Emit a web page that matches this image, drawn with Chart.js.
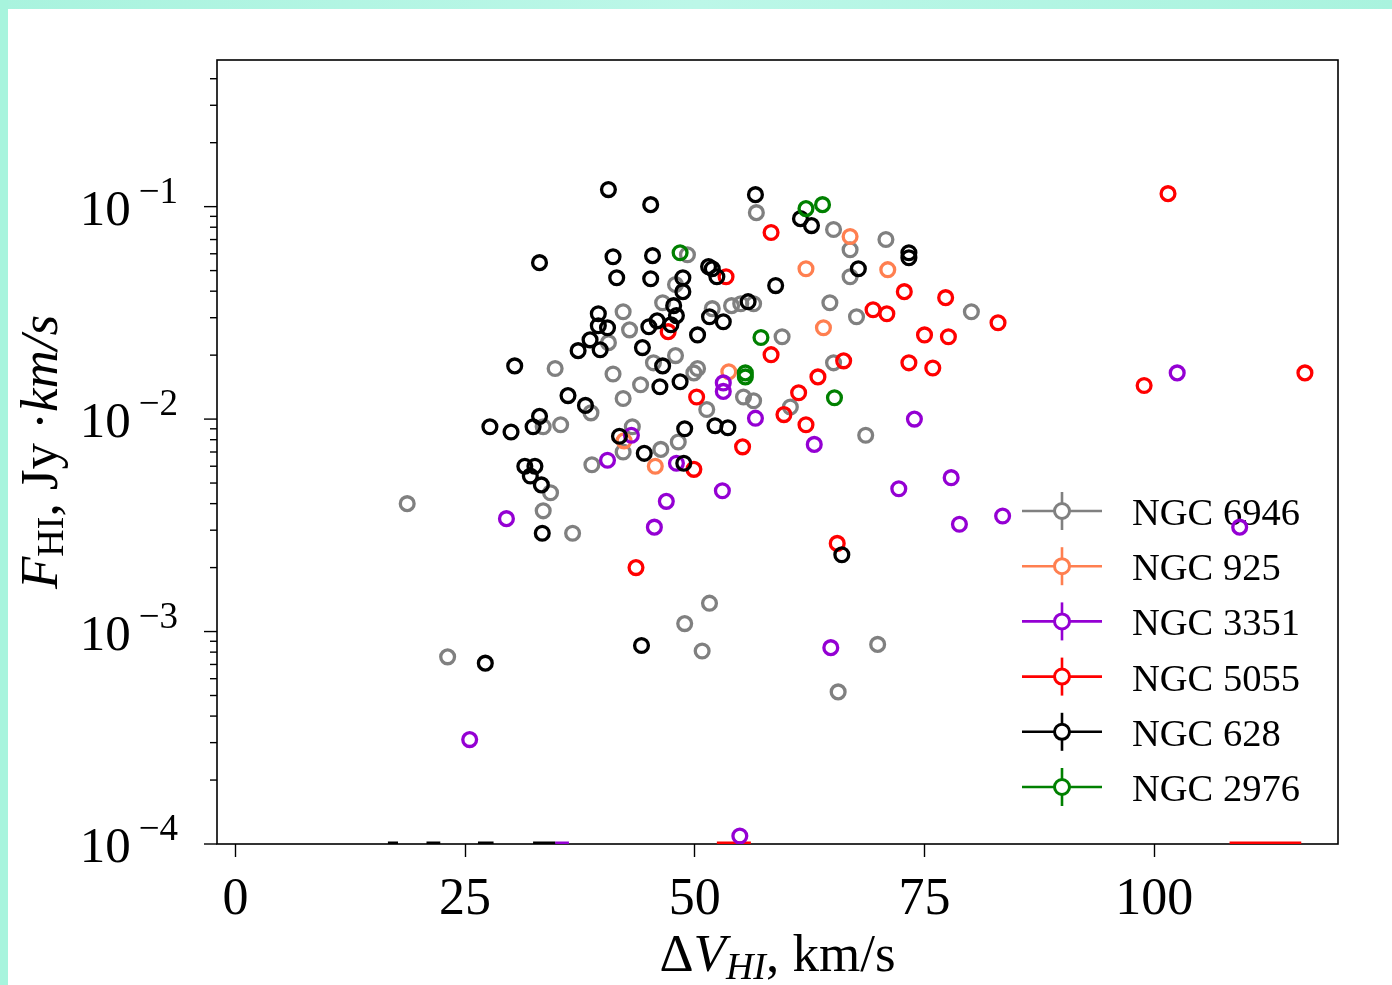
<!DOCTYPE html>
<html lang="en">

<head>
    <meta charset="UTF-8">
    <title>HI flux vs line width</title>
    <script src="https://cdn.jsdelivr.net/npm/chart.js@4.4.1/dist/chart.umd.min.js"></script>
    <style>
        body { margin: 0; background: #fff; overflow: hidden; }
        #topband { position: absolute; left: 0; top: 0; width: 1392px; height: 9px;
            background: linear-gradient(to right, #a9f3de, #bcf7e8 50%, #a9f3de); }
        #leftband { position: absolute; left: 0; top: 0; width: 8px; height: 985px; background: #a7f4dd; }
        #chart { position: absolute; left: 0; top: 0; }
    </style>
</head>

<body>
    <div id="topband"></div>
    <div id="leftband"></div>
    <canvas id="chart" width="1392" height="985"></canvas>

<script>
    // series: line width dV (km/s) and flux F (Jy km/s)
    const ngc6946_dv = [18.7, 23.1, 34.3, 33.5, 36.7, 34.8, 35.4, 33.5, 38.8, 38.7, 40.6, 41.1, 42.2, 42.9, 42.2, 44.1, 42.2, 43.2, 45.5, 46.3, 46.5, 47.9, 47.9, 48.2, 49.2, 49.9, 50.3, 51.3, 51.9, 54.0, 55.0, 56.4, 55.3, 56.4, 56.7, 59.5, 60.4, 64.7, 65.1, 65.1, 66.9, 66.9, 67.6, 68.6, 70.8, 80.1, 51.6, 48.9, 50.8, 69.9, 65.6];
    const ngc6946_f = [0.0040, 0.00076, 0.0045, 0.0037, 0.0029, 0.0173, 0.0094, 0.0092, 0.0061, 0.0107, 0.0229, 0.0163, 0.0320, 0.0263, 0.0125, 0.0145, 0.0070, 0.0092, 0.0184, 0.0072, 0.0353, 0.0430, 0.0199, 0.0078, 0.0594, 0.0165, 0.0173, 0.0111, 0.0331, 0.0342, 0.0349, 0.0349, 0.0127, 0.0122, 0.0937, 0.0244, 0.0114, 0.0353, 0.0780, 0.0184, 0.0627, 0.0468, 0.0303, 0.0084, 0.0700, 0.0320, 0.00136, 0.00109, 0.00081, 0.00087, 0.00052];

    const ngc925_dv = [66.9, 62.1, 71.0, 64.0, 53.7, 45.7, 42.3];
    const ngc925_f = [0.0723, 0.0510, 0.0505, 0.0269, 0.0167, 0.0060, 0.0079];

    const ngc3351_dv = [25.5, 29.5, 40.5, 43.1, 45.6, 46.9, 53.0, 53.1, 53.1, 56.6, 63.0, 48.0, 64.8, 54.9, 72.2, 73.9, 77.9, 78.8, 83.5, 102.5, 109.3];
    const ngc3351_f = [0.00031, 0.0034, 0.0064, 0.0084, 0.0031, 0.0041, 0.0046, 0.0148, 0.0135, 0.0101, 0.0076, 0.0062, 0.00084, 0.000109, 0.0047, 0.0100, 0.0053, 0.0032, 0.0035, 0.0165, 0.0031];

    const ngc5055_dv = [53.4, 58.3, 47.1, 50.2, 55.2, 49.9, 43.6, 58.3, 59.7, 62.1, 63.4, 61.3, 66.2, 65.5, 69.4, 70.9, 72.8, 77.3, 75.0, 77.6, 73.3, 75.9, 83.0, 98.9, 101.5, 116.4];
    const ngc5055_f = [0.0468, 0.0755, 0.0258, 0.0127, 0.0074, 0.0058, 0.0020, 0.0201, 0.0105, 0.0094, 0.0158, 0.0133, 0.0188, 0.0026, 0.0327, 0.0313, 0.0398, 0.0373, 0.0249, 0.0244, 0.0184, 0.0174, 0.0284, 0.0144, 0.1151, 0.0165];

    const ngc628_dv = [40.6, 45.2, 56.6, 33.1, 41.1, 41.5, 45.4, 45.2, 51.5, 51.9, 52.4, 48.7, 48.7, 47.7, 48.0, 47.4, 45.9, 45.0, 39.5, 39.5, 40.5, 38.6, 37.3, 39.7, 44.3, 50.3, 51.6, 53.1, 46.5, 46.2, 48.4, 36.2, 38.1, 30.4, 27.7, 30.0, 33.1, 32.4, 41.8, 48.9, 52.2, 53.6, 44.5, 48.8, 31.5, 32.6, 32.1, 33.3, 33.4, 61.5, 62.7, 73.3, 73.3, 67.8, 58.8, 55.8, 66.0, 44.2, 27.2];
    const ngc628_f = [0.1203, 0.1022, 0.1139, 0.0545, 0.0581, 0.0463, 0.0588, 0.0458, 0.0522, 0.0510, 0.0468, 0.0463, 0.0398, 0.0342, 0.0307, 0.0278, 0.0290, 0.0272, 0.0313, 0.0275, 0.0269, 0.0236, 0.0210, 0.0212, 0.0217, 0.0249, 0.0303, 0.0287, 0.0178, 0.0142, 0.0150, 0.0129, 0.0116, 0.0178, 0.0092, 0.0087, 0.0103, 0.0092, 0.0083, 0.0090, 0.0093, 0.0091, 0.0069, 0.0062, 0.0060, 0.0060, 0.0054, 0.0049, 0.0029, 0.0878, 0.0814, 0.0607, 0.0575, 0.0510, 0.0425, 0.0357, 0.0023, 0.00086, 0.00071];

    const ngc2976_dv = [62.1, 63.9, 48.4, 57.2, 55.5, 55.5, 65.2];
    const ngc2976_f = [0.0979, 0.1022, 0.0607, 0.0242, 0.0165, 0.0158, 0.0126];

    // dV error bars of sources sitting on the lower flux limit
    const fluxFloor = 1e-4;
    const floorBars628 = [[16.6, 17.7], [20.8, 22.3], [26.4, 28.1], [32.4, 34.8]];
    const floorBars3351 = [[34.8, 36.3]];
    const floorBars5055 = [[52.4, 56.1], [108.2, 116.0]];

    const seriesNames = ['NGC 6946', 'NGC 925', 'NGC 3351', 'NGC 5055', 'NGC 628', 'NGC 2976'];
    const seriesColors = ['#808080', '#ff7f50', '#9400d3', '#ff0000', '#000000', '#008000'];
    const xTicks = [0, 25, 50, 75, 100];
    const yDecades = [-4, -3, -2, -1];
    const xMin = -2, xMax = 120, yMin = 1e-4, yMax = 0.49;

    const serif = 'Liberation Serif';

    function pairs(xs, ys) {
        return xs.map((v, i) => ({ x: v, y: ys[i] }));
    }

    function barPoints(bars) {
        const pts = [];
        bars.forEach(b => {
            pts.push({ x: b[0], y: fluxFloor }, { x: b[1], y: fluxFloor }, { x: b[1], y: null });
        });
        return pts;
    }

    function pointSet(i, xs, ys) {
        return {
            label: seriesNames[i],
            data: pairs(xs, ys),
            borderColor: seriesColors[i],
            backgroundColor: 'rgba(0,0,0,0)',
            pointRadius: 6.9,
            pointBorderWidth: 3.3,
            pointHoverRadius: 6.9,
            showLine: false,
            order: 6 - i,
        };
    }

    function barSet(i, bars) {
        return {
            label: seriesNames[i] + ' floor',
            data: barPoints(bars),
            borderColor: seriesColors[i],
            borderWidth: 5,
            pointRadius: 0,
            showLine: true,
            spanGaps: false,
            clip: 0,
            order: 7,
        };
    }

    function drawPieces(ctx, pieces, x, y) {
        let cx = x;
        pieces.forEach(p => {
            ctx.font = p.font;
            ctx.fillText(p.t, cx, y + (p.dy || 0));
            cx += ctx.measureText(p.t).width;
        });
    }

    function piecesWidth(ctx, pieces) {
        let w = 0;
        pieces.forEach(p => {
            ctx.font = p.font;
            w += ctx.measureText(p.t).width;
        });
        return w;
    }

    function seg(ctx, x1, y1, x2, y2) {
        ctx.beginPath();
        ctx.moveTo(x1, y1);
        ctx.lineTo(x2, y2);
        ctx.stroke();
    }

    // frame, log ticks, labels, titles and legend drawn matplotlib-style
    const mplAxes = {
        id: 'mplAxes',
        beforeDatasetsDraw(chart) {
            const ctx = chart.ctx;
            const a = chart.chartArea;
            const ys = chart.scales.y;
            ctx.save();
            ctx.strokeStyle = '#000';
            ctx.fillStyle = '#000';
            ctx.lineWidth = 1.6;
            ctx.strokeRect(a.left, a.top, a.right - a.left, a.bottom - a.top);

            // y ticks, major and minor
            ctx.lineWidth = 1.4;
            yDecades.forEach(e => {
                for (let k = 1; k <= 9; k++) {
                    const v = k * Math.pow(10, e);
                    if (v > yMax) break;
                    const py = ys.getPixelForValue(v);
                    seg(ctx, a.left - (k === 1 ? 13 : 7), py, a.left, py);
                }
            });

            // y tick labels 10^n
            ctx.textBaseline = 'alphabetic';
            ctx.textAlign = 'left';
            yDecades.forEach(e => {
                const py = ys.getPixelForValue(Math.pow(10, e));
                const exp = '\u2212' + (-e);
                ctx.font = '37px "' + serif + '"';
                const ew = ctx.measureText(exp).width;
                ctx.fillText(exp, 178 - ew, py - 4);
                ctx.font = '51px "' + serif + '"';
                const bw = ctx.measureText('10').width;
                ctx.fillText('10', 178 - ew - 8 - bw, py + 18);
            });

            // x axis title
            const xt = [
                { t: '\u0394', font: '53px "' + serif + '"' },
                { t: 'V', font: 'italic 53px "' + serif + '"' },
                { t: 'HI', font: 'italic 38px "' + serif + '"', dy: 8 },
                { t: ', km/s', font: '53px "' + serif + '"' },
            ];
            const cx = (a.left + a.right) / 2;
            drawPieces(ctx, xt, cx - piecesWidth(ctx, xt) / 2, 971);

            // y axis title
            const yt = [
                { t: 'F', font: 'italic 53px "' + serif + '"' },
                { t: 'HI', font: '38px "' + serif + '"', dy: 6 },
                { t: ', Jy ', font: '53px "' + serif + '"' },
                { t: '\u00b7', font: '53px "' + serif + '"' },
                { t: 'km/s', font: 'italic 53px "' + serif + '"' },
            ];
            ctx.save();
            ctx.translate(57, (a.top + a.bottom) / 2);
            ctx.rotate(-Math.PI / 2);
            drawPieces(ctx, yt, -piecesWidth(ctx, yt) / 2, 0);
            ctx.restore();

            // legend with errorbar handles
            seriesNames.forEach((name, i) => {
                const ly = a.top + 451 + i * 55.2;
                const lx = a.right - 276;
                ctx.strokeStyle = seriesColors[i];
                ctx.lineWidth = 2.6;
                seg(ctx, lx - 40, ly, lx + 40, ly);
                seg(ctx, lx, ly - 19, lx, ly + 19);
                ctx.beginPath();
                ctx.arc(lx, ly, 7.5, 0, Math.PI * 2);
                ctx.fillStyle = '#fff';
                ctx.fill();
                ctx.lineWidth = 3;
                ctx.stroke();
                ctx.fillStyle = '#000';
                ctx.font = '38.5px "' + serif + '"';
                ctx.fillText(name, lx + 70, ly + 14);
            });
            ctx.restore();
        }
    };

    const ctx = document.getElementById('chart').getContext('2d');
    const myChart = new Chart(ctx, {
        type: 'scatter',
        data: {
            datasets: [
                pointSet(0, ngc6946_dv, ngc6946_f),
                pointSet(1, ngc925_dv, ngc925_f),
                pointSet(2, ngc3351_dv, ngc3351_f),
                pointSet(3, ngc5055_dv, ngc5055_f),
                pointSet(4, ngc628_dv, ngc628_f),
                pointSet(5, ngc2976_dv, ngc2976_f),
                barSet(4, floorBars628),
                barSet(2, floorBars3351),
                barSet(3, floorBars5055),
            ]
        },
        options: {
            responsive: false,
            animation: false,
            events: [],
            layout: { padding: { top: 60, right: 54, left: 0, bottom: 0 } },
            plugins: {
                legend: { display: false },
                tooltip: { enabled: false },
            },
            scales: {
                x: {
                    type: 'linear',
                    min: xMin,
                    max: xMax,
                    afterBuildTicks: s => { s.ticks = xTicks.map(v => ({ value: v })); },
                    afterFit: s => { s.height = 141; },
                    grid: {
                        display: true,
                        drawOnChartArea: false,
                        drawTicks: true,
                        tickLength: 13,
                        tickColor: '#000',
                        tickWidth: 1.4,
                    },
                    border: { display: false },
                    ticks: {
                        color: '#000',
                        font: { family: serif, size: 52 },
                        padding: 12,
                        maxRotation: 0,
                        autoSkip: false,
                    }
                },
                y: {
                    type: 'logarithmic',
                    min: yMin,
                    max: yMax,
                    afterFit: s => { s.width = 217; },
                    grid: { display: false },
                    border: { display: false },
                    ticks: { display: false },
                }
            }
        },
        plugins: [mplAxes]
    });
</script>
</body>

</html>
